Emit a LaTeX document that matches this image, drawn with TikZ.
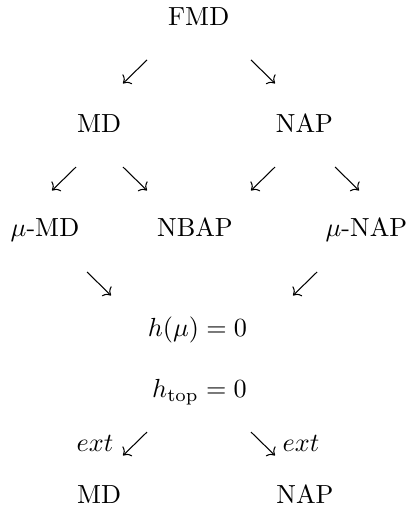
\documentclass[tikz,border=0pt]{standalone}
\usepackage{amsmath, amssymb}
\usetikzlibrary{arrows.meta, positioning}

\begin{document}
\begin{tikzpicture}[
      lbl/.style={anchor=base, inner sep=0pt},
      arr/.style={-{To}, line width=0.4pt},
    ]
    \useasboundingbox (0,0) rectangle (5.517,-6.832);
    % --- the classes, row by row --------------------------------------
    \node[lbl] (fmd)   at (2.667,-0.349) {FMD};
    \node[lbl] (md)    at (1.329,-1.772) {MD};
    \node[lbl] (nap)   at (4.087,-1.772) {NAP};
    \node[lbl] (mumd)  at (0.604,-3.177) {$\mu$-MD};
    \node[lbl] (nbap)  at (2.617,-3.177) {NBAP};
    \node[lbl] (munap) at (4.919,-3.177) {$\mu$-NAP};
    \node[lbl] (hmu)   at (2.651,-4.510) {$h(\mu)=0$};
    \node[lbl] (htop)  at (2.678,-5.342) {$h_{\text{top}}=0$};
    \node[lbl] (extmd)  at (1.275,-6.063) {$ext$};
    \node[lbl] (extnap) at (4.040,-6.063) {$ext$};
    \node[lbl] (mdx)   at (1.329,-6.752) {MD};
    \node[lbl] (napx)  at (4.094,-6.752) {NAP};
    % --- the short diagonal arrows between the rows -------------------
    \foreach \n/\x/\y/\d in {1/1.973/-0.805/-1, 2/3.369/-0.805/1,
                             3/1.020/-2.242/-1, 4/1.651/-2.242/1,
                             5/3.691/-2.242/-1, 6/4.497/-2.242/1,
                             7/1.168/-3.651/1,  8/4.255/-3.651/-1,
                             9/1.973/-5.799/-1, 10/3.369/-5.799/1} {
      \coordinate (s\n) at (\x,\y);
      \coordinate (e\n) at (\x+\d*0.322,\y-0.315);
      \draw[arr] (s\n) -- (e\n);
    }
  \end{tikzpicture}
\end{document}
